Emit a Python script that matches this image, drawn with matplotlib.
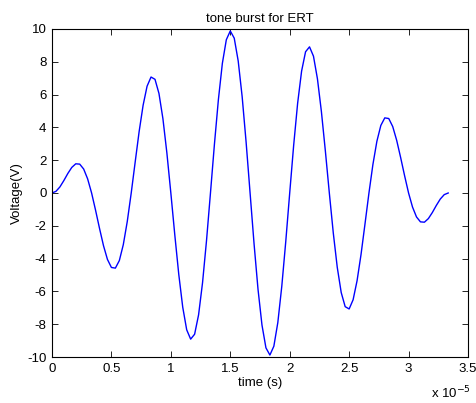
import numpy as np
import matplotlib.pyplot as plt
from matplotlib.ticker import FuncFormatter

plt.rcParams['font.family'] = ['Liberation Sans', 'DejaVu Sans']
plt.rcParams['axes.unicode_minus'] = False

# sample times: 101 samples, 1/3 us apart
t = np.arange(101) / 3e6
# voltage
v = [0.00, 0.10, 0.37, 0.76, 1.19, 1.56, 1.78, 1.76, 1.46, 0.86,
     0.00, -1.05, -2.16, -3.21, -4.05, -4.54, -4.58, -4.12, -3.15, -1.74,
     0.00, 1.89, 3.75, 5.35, 6.51, 7.07, 6.93, 6.07, 4.53, 2.44,
     0.00, -2.56, -4.96, -6.96, -8.34, -8.91, -8.61, -7.43, -5.47, -2.91,
     0.00, 2.97, 5.69, 7.90, 9.34, 9.88, 9.44, 8.05, 5.87, 3.09,
     0.00, -3.09, -5.87, -8.05, -9.44, -9.88, -9.34, -7.90, -5.69, -2.97,
     0.00, 2.91, 5.47, 7.43, 8.61, 8.91, 8.34, 6.96, 4.96, 2.56,
     0.00, -2.44, -4.53, -6.07, -6.93, -7.07, -6.51, -5.35, -3.75, -1.89,
     0.00, 1.74, 3.15, 4.12, 4.58, 4.54, 4.05, 3.21, 2.16, 1.05,
     0.00, -0.86, -1.46, -1.76, -1.78, -1.56, -1.19, -0.76, -0.37, -0.10,
     0.00]

xticks = [0, 0.5e-5, 1e-5, 1.5e-5, 2e-5, 2.5e-5, 3e-5, 3.5e-5]
yticks = [-10, -8, -6, -4, -2, 0, 2, 4, 6, 8, 10]

fs = 9.5
fig = plt.figure(figsize=(4.76, 4.03), dpi=100)
ax = fig.add_axes([0.1092, 0.1141, 0.874, 0.814])
ax.plot(t, v, color='blue', lw=1.0)

ax.set_xlim(0, 3.5e-5)
ax.set_ylim(-10, 10)
ax.set_xticks(xticks)
ax.set_yticks(yticks)
ax.xaxis.set_major_formatter(FuncFormatter(lambda x, p: '%g' % round(x * 1e5, 2)))
ax.tick_params(direction='in', length=4, width=0.6, top=True, right=True,
               labelsize=fs, pad=4)
for s in ax.spines.values():
    s.set_linewidth(0.8)

ax.set_title('tone burst for ERT', fontsize=fs, pad=5)
ax.set_xlabel('time (s)', fontsize=fs, labelpad=2)
ax.set_ylabel('Voltage(V)', fontsize=fs, labelpad=3)
fig.text(0.905, 0.012, r'x 10$^{-5}$', fontsize=fs)

fig.savefig('out.png')
